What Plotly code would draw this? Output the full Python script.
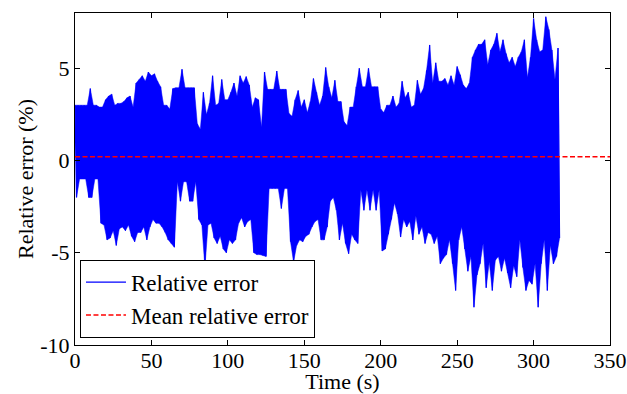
import plotly.graph_objects as go

# Sampling grid (s) at which the upper/lower peaks of the signal were read
time_s = list(range(0, 317, 2))

# Upper peaks of the relative error (%)
peak_high = [
    3.0, 3.0, 3.0, 3.0, 3.0, 3.9, 3.0, 3.0, 2.9, 2.9,
    3.3, 3.5, 3.6, 3.0, 3.1, 3.1, 3.2, 3.4, 3.5, 2.9,
    4.2, 4.4, 4.6, 4.3, 4.8, 4.6, 4.7, 4.3, 4.0, 3.0,
    3.0, 2.8, 3.9, 3.95, 3.95, 4.95, 3.95, 3.95, 3.95, 3.95,
    2.0, 1.7, 3.7, 2.5, 3.1, 4.6, 3.0, 3.1, 4.4, 3.3,
    3.3, 3.7, 4.2, 3.5, 4.6, 4.2, 4.55, 4.1, 2.9, 3.4,
    3.3, 1.8, 4.8, 3.86, 3.86, 3.86, 4.85, 3.86, 3.86, 3.86,
    2.55, 2.4, 3.3, 3.8, 2.9, 3.3, 2.6, 3.2, 4.45, 3.7,
    3.0, 3.5, 5.05, 4.0, 3.4, 4.35, 3.2, 3.2, 2.1, 1.9,
    2.9, 2.9, 4.0, 5.0, 4.0, 4.0, 5.0, 4.0, 4.0, 4.0,
    2.8, 2.6, 3.0, 3.0, 3.5, 2.9, 3.1, 4.3, 3.4, 3.7,
    2.9, 3.0, 4.35, 3.6, 3.9, 4.9, 6.27, 4.2, 5.3, 4.3,
    4.3, 4.45, 4.1, 4.6, 4.1, 5.1, 4.65, 4.1, 3.9, 4.2,
    5.6, 6.0, 6.3, 6.3, 6.55, 5.2, 6.0, 6.3, 6.9, 5.9,
    6.55, 5.8, 5.3, 5.6, 5.1, 5.6, 5.9, 6.55, 4.5, 5.6,
    7.7, 6.55, 5.9, 6.0, 7.8, 7.1, 6.0, 4.4, 6.1,
]

# Lower peaks of the relative error (%)
peak_low = [
    -2.0, -1.0, -1.0, -1.0, -2.0, -2.0, -1.0, -1.0, -3.4, -3.5,
    -4.3, -4.2, -3.8, -4.6, -3.7, -3.6, -3.8, -3.5, -4.1, -4.4,
    -3.9, -3.9, -3.6, -4.3, -3.6, -3.2, -3.4, -3.4, -3.6, -3.9,
    -4.3, -4.5, -4.7, -1.15, -2.2, -1.15, -1.15, -2.2, -2.2, -1.15,
    -3.2, -3.5, -5.8, -3.5, -3.4, -4.2, -4.5, -4.1, -4.8, -5.0,
    -4.3, -4.5, -4.3, -3.4, -3.1, -3.6, -3.3, -3.2, -5.0, -5.1,
    -5.1, -5.15, -5.2, -1.52, -1.52, -1.52, -1.52, -2.6, -1.52, -1.52,
    -4.4, -5.5, -4.6, -4.3, -4.4, -4.1, -4.0, -3.6, -3.3, -3.2,
    -4.3, -4.3, -3.6, -2.2, -2.0, -2.7, -4.3, -3.4, -4.5, -5.05,
    -4.0, -4.3, -4.5, -1.6, -2.7, -1.6, -2.7, -1.6, -2.7, -1.6,
    -4.9, -4.8, -4.0, -3.2, -2.3, -2.9, -4.15, -3.2, -3.6, -3.3,
    -4.3, -3.0, -4.0, -3.6, -4.5, -3.9, -4.0, -4.5, -4.1, -5.6,
    -5.3, -5.1, -4.3, -5.6, -7.05, -4.3, -3.6, -4.8, -6.0, -5.2,
    -7.95, -6.2, -5.6, -4.5, -6.9, -5.5, -7.05, -5.4, -5.2, -6.0,
    -5.3, -6.1, -6.9, -5.7, -6.3, -4.3, -5.8, -7.05, -6.5, -6.7,
    -5.6, -7.95, -5.6, -4.3, -7.05, -4.6, -5.6, -5.2, -4.2,
]

mean_error = 0.2
mean_span = [0, 350]

x_ticks = [0, 50, 100, 150, 200, 250, 300, 350]
y_ticks = [-10, -5, 0, 5]
y_tick_text = ["-10", "-5", "0", "5"]

# Alternate upper and lower peaks (lower one half a sample later)
xs, ys = [], []
for t, hi, lo in zip(time_s, peak_high, peak_low):
    xs += [t, t + 1]
    ys += [hi, lo]

# Band between the peaks (the densely filled body of the signal)
band_x = time_s + [t + 1 for t in time_s][::-1]
band_y = peak_high + peak_low[::-1]

FONT = "Liberation Serif"
FS = 22
BLUE = "#0000FF"

fig = go.Figure()
fig.add_trace(go.Scatter(
    x=band_x, y=band_y, mode="lines", fill="toself", fillcolor=BLUE,
    line=dict(color=BLUE, width=0.5, simplify=False),
    showlegend=False, hoverinfo="skip",
))
fig.add_trace(go.Scatter(
    x=xs, y=ys, mode="lines", name="Relative error",
    line=dict(color=BLUE, width=1.2, simplify=False),
))
fig.add_trace(go.Scatter(
    x=mean_span, y=[mean_error, mean_error], mode="lines",
    name="Mean relative error",
    line=dict(color="#FF0000", width=1.5, dash="5px,2.5px"),
))

axis_common = dict(
    showline=True, linecolor="black", linewidth=1, mirror="ticks",
    ticks="inside", ticklen=5, tickcolor="black", showgrid=False,
    zeroline=False, automargin=False, ticklabeloverflow="allow",
    tickfont=dict(family=FONT, size=FS, color="black"),
)

fig.update_layout(
    width=627, height=394,
    margin=dict(l=75, r=17, t=13, b=49),
    paper_bgcolor="white", plot_bgcolor="white",
    font=dict(family=FONT, size=FS, color="black"),
    xaxis=dict(range=[0, 350], tickvals=x_ticks, ticklabelstandoff=-4,
               title=dict(text="Time (s)", font=dict(family=FONT, size=FS)),
               **axis_common),
    yaxis=dict(range=[-10, 8], tickvals=y_ticks, ticktext=y_tick_text,
               title=dict(text="Relative error (%)", font=dict(family=FONT, size=FS),
                          standoff=0),
               **axis_common),
    legend=dict(x=0.0093, y=0.022, xanchor="left", yanchor="bottom",
                bgcolor="white", bordercolor="black", borderwidth=1,
                font=dict(family=FONT, size=23, color="black"),
                itemwidth=40, tracegroupgap=0),
    showlegend=True,
)

fig.write_html("out.html")
